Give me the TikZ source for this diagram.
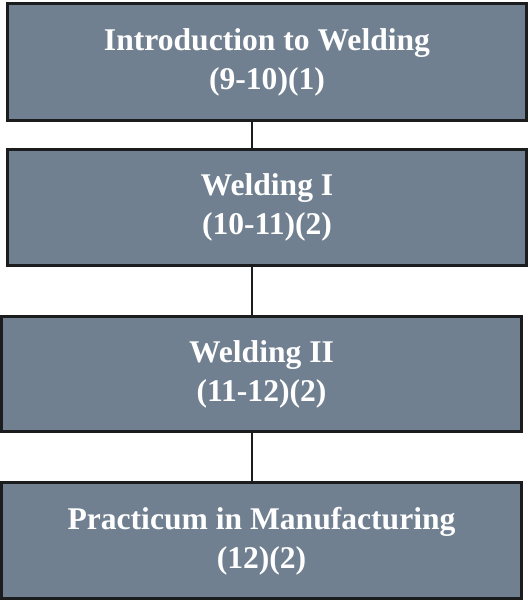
\documentclass[tikz,border=0pt]{standalone}
\usepackage{fontspec}
\setmainfont{Liberation Serif}
\definecolor{boxfill}{RGB}{112,128,144}
\definecolor{boxline}{RGB}{26,28,30}
\begin{document}
\begin{tikzpicture}[x=1pt,y=1pt,
  stage/.style={draw=boxline,line width=3pt,fill=boxfill,inner sep=0pt,
    text=white,font=\bfseries\fontsize{31.6}{39}\selectfont,align=center},
  link/.style={draw=boxline,line width=2.5pt}]
\useasboundingbox (0,0) rectangle (528,601);
\node[stage,minimum width=519pt,minimum height=116.5pt] (b1) at (267,538.75) {Introduction to Welding\\(9-10)(1)};
\node[stage,minimum width=519pt,minimum height=116.5pt] (b2) at (267,393.25) {Welding I\\(10-11)(2)};
\node[stage,minimum width=520pt,minimum height=115pt] (b3) at (261.5,226.5) {Welding II\\(11-12)(2)};
\node[stage,minimum width=520pt,minimum height=115.5pt] (b4) at (261.5,60.25) {Practicum in Manufacturing\\(12)(2)};
\draw[link] (b1.south -| 252,0) -- (b2.north -| 252,0);
\draw[link] (b2.south -| 252,0) -- (b3.north -| 252,0);
\draw[link] (b3.south -| 252,0) -- (b4.north -| 252,0);
\end{tikzpicture}
\end{document}
